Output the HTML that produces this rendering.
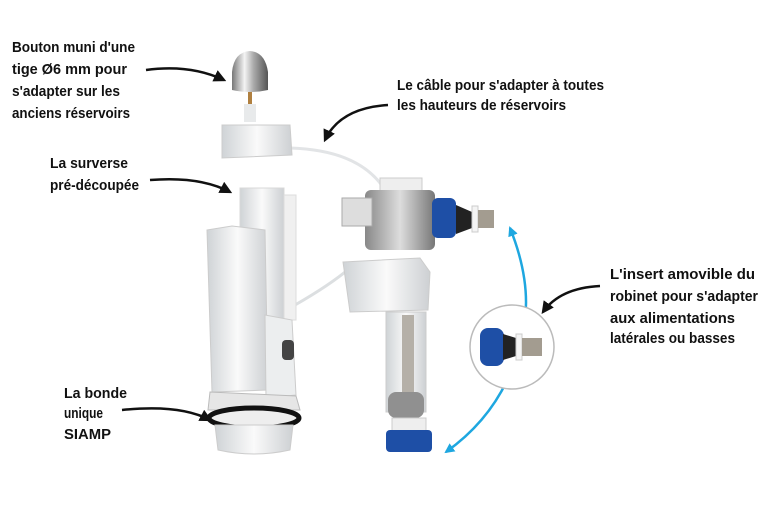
<!DOCTYPE html>
<html><head><meta charset="utf-8"><style>
html,body{margin:0;padding:0;background:#fff;width:768px;height:512px;overflow:hidden}
svg{display:block}
text{font-family:"Liberation Sans Narrow","Liberation Sans",sans-serif;font-weight:bold;font-size:15px;fill:#111}
</style></head><body>
<svg width="768" height="512" viewBox="0 0 768 512">
<defs>
<linearGradient id="chrome" x1="0" x2="1"><stop offset="0" stop-color="#777"/><stop offset=".35" stop-color="#f4f4f4"/><stop offset=".6" stop-color="#aaa"/><stop offset="1" stop-color="#555"/></linearGradient>
<linearGradient id="wh" x1="0" x2="1"><stop offset="0" stop-color="#cfd3d6"/><stop offset=".5" stop-color="#fafafa"/><stop offset="1" stop-color="#cdd0d3"/></linearGradient>
<linearGradient id="gr" x1="0" x2="1"><stop offset="0" stop-color="#888"/><stop offset=".5" stop-color="#ddd"/><stop offset="1" stop-color="#777"/></linearGradient>
<marker id="ah" viewBox="0 0 10 10" refX="8" refY="5" markerWidth="5" markerHeight="5" orient="auto"><path d="M0,0 L10,5 L0,10 z" fill="#111"/></marker>
<marker id="bh" viewBox="0 0 10 10" refX="8" refY="5" markerWidth="4" markerHeight="4" orient="auto-start-reverse"><path d="M0,0 L10,5 L0,10 z" fill="#1ea7e0"/></marker>
</defs>
<g lengthAdjust="spacingAndGlyphs">
<text x="12" y="52" textLength="123" lengthAdjust="spacingAndGlyphs">Bouton muni d'une</text>
<text x="12" y="74" textLength="115" lengthAdjust="spacingAndGlyphs">tige Ø6 mm pour</text>
<text x="12" y="96" textLength="108" lengthAdjust="spacingAndGlyphs">s'adapter sur les</text>
<text x="12" y="118" textLength="118" lengthAdjust="spacingAndGlyphs">anciens réservoirs</text>
<text x="50" y="168" textLength="78" lengthAdjust="spacingAndGlyphs">La surverse</text>
<text x="50" y="190" textLength="89" lengthAdjust="spacingAndGlyphs">pré-découpée</text>
<text x="397" y="90" textLength="207" lengthAdjust="spacingAndGlyphs">Le câble pour s'adapter à toutes</text>
<text x="397" y="110" textLength="169" lengthAdjust="spacingAndGlyphs">les hauteurs de réservoirs</text>
<text x="610" y="279" textLength="145" lengthAdjust="spacingAndGlyphs">L'insert amovible du</text>
<text x="610" y="301" textLength="148" lengthAdjust="spacingAndGlyphs">robinet pour s'adapter</text>
<text x="610" y="323" textLength="125" lengthAdjust="spacingAndGlyphs">aux alimentations</text>
<text x="610" y="343" textLength="125" lengthAdjust="spacingAndGlyphs">latérales ou basses</text>
<text x="64" y="398" textLength="63" lengthAdjust="spacingAndGlyphs">La bonde</text>
<text x="64" y="418" textLength="39" lengthAdjust="spacingAndGlyphs">unique</text>
<text x="64" y="439" textLength="47" lengthAdjust="spacingAndGlyphs">SIAMP</text>
</g>
<g fill="none" stroke="#111" stroke-width="2.5" marker-end="url(#ah)">
<path d="M146,70 Q190,64 224,80"/>
<path d="M150,180 Q200,176 230,192"/>
<path d="M388,105 Q340,108 325,140"/>
<path d="M600,286 Q560,288 543,312"/>
<path d="M122,410 Q180,404 210,420"/>
</g>
<path d="M510,228 Q535,290 521,340 Q505,410 446,452" fill="none" stroke="#1ea7e0" stroke-width="2.5" marker-start="url(#bh)" marker-end="url(#bh)"/>
<path d="M290,148 Q360,150 385,190" fill="none" stroke="#e2e4e6" stroke-width="3"/>
<path d="M295,305 Q330,285 350,268" fill="none" stroke="#dcdfe1" stroke-width="3"/>
<path d="M232,90 L232,72 Q234,52 250,51 Q265,52 268,72 L268,90 Q250,94 232,90z" fill="url(#chrome)"/>
<rect x="248" y="92" width="4" height="14" fill="#b08040"/>
<rect x="244" y="104" width="12" height="18" fill="#e8eaeb"/>
<path d="M222,125 L290,125 L292,155 L222,158z" fill="url(#wh)" stroke="#ccc"/>
<rect x="240" y="188" width="44" height="140" fill="url(#wh)" stroke="#d8d8d8"/>
<rect x="284" y="195" width="12" height="125" fill="#f0f0f0" stroke="#ddd"/>
<path d="M207,230 L232,226 L265,230 L268,390 L212,392z" fill="url(#wh)" stroke="#ccc"/>
<path d="M265,315 L292,320 L296,395 L266,398z" fill="#eceeef" stroke="#ccc"/>
<rect x="282" y="340" width="12" height="20" rx="4" fill="#444"/>
<path d="M210,392 L296,396 L300,410 L208,410z" fill="#e6e6e6" stroke="#bbb"/>
<ellipse cx="254" cy="418" rx="45" ry="10" fill="#eee" stroke="#111" stroke-width="5"/>
<path d="M215,425 L293,425 L290,450 Q254,458 218,450z" fill="url(#wh)" stroke="#ccc"/>
<rect x="380" y="178" width="42" height="14" fill="#eee" stroke="#ccc"/>
<rect x="365" y="190" width="70" height="60" rx="6" fill="url(#gr)"/>
<rect x="342" y="198" width="30" height="28" fill="#ddd" stroke="#aaa"/>
<rect x="432" y="198" width="24" height="40" rx="6" fill="#1e4fa6"/>
<path d="M456,205 L472,212 L472,228 L456,234z" fill="#222"/>
<rect x="472" y="206" width="6" height="26" fill="#f4f4f4" stroke="#ccc"/>
<rect x="478" y="210" width="16" height="18" fill="#a39c90"/>
<path d="M343,262 L420,258 L430,272 L428,310 L350,312z" fill="url(#wh)" stroke="#ccc"/>
<rect x="386" y="312" width="40" height="100" fill="url(#wh)" stroke="#ccc"/>
<rect x="402" y="315" width="12" height="95" fill="#b5b0a8"/>
<rect x="388" y="392" width="36" height="26" rx="8" fill="#909090"/>
<rect x="392" y="418" width="34" height="14" fill="#eee" stroke="#ccc"/>
<rect x="386" y="430" width="46" height="22" rx="4" fill="#1e4fa6"/>
<circle cx="512" cy="347" r="42" fill="#fff" stroke="#bbb" stroke-width="1.5"/>
<rect x="480" y="328" width="24" height="38" rx="8" fill="#1e4fa6"/>
<path d="M503,334 L516,338 L516,356 L503,360z" fill="#222"/>
<rect x="516" y="334" width="6" height="26" fill="#f4f4f4" stroke="#ccc"/>
<rect x="522" y="338" width="20" height="18" fill="#a39c90"/>
</svg>
</body></html>
